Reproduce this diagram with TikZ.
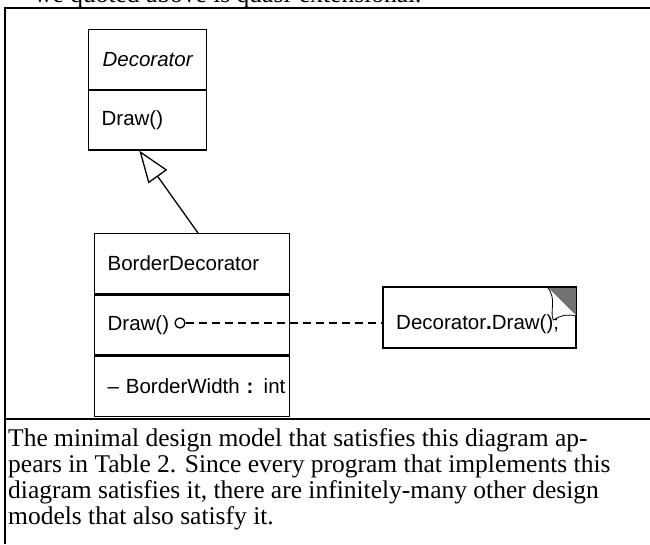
\documentclass[tikz,border=0pt]{standalone}
\usepackage{fontspec}
\setmainfont{Liberation Serif}
\setsansfont{Liberation Sans}
\usetikzlibrary{arrows.meta,calc}

\tikzset{
  marco/.style={line width=2pt},
  caja/.style={draw, line width=1.3pt, rectangle, inner ysep=0pt,
    font=\sffamily\fontsize{20.5}{24}\selectfont},
  compdeco/.style={caja, anchor=north west, minimum width=118pt,
    minimum height=59.5pt, inner xsep=13pt, text width=92pt},
  compborde/.style={caja, anchor=north west, minimum width=195pt,
    minimum height=60pt, inner xsep=13pt, text width=169pt, align=left},
  texto/.style={font=\sffamily\fontsize{20.5}{24}\selectfont, inner sep=0pt},
  leyenda/.style={font=\fontsize{25.5}{26}\selectfont, inner sep=0pt, anchor=base west},
  gen/.style={line width=1.3pt, -{Triangle[open, length=32pt, width=23pt, fill=white]}},
  depende/.style={line width=1.3pt, dash pattern=on 8pt off 5pt}
}

\begin{document}
\begin{tikzpicture}[x=1pt, y=-1pt]
    \useasboundingbox (0,0) rectangle (650,544);
    \clip (0,0) rectangle (650,544);

    % Marco de la tabla
    \draw[marco] (650,8) -- (5,8) -- (5,544);
    \draw[marco] (5,419) -- (650,419);
    \node[leyenda] (arriba) at (34,2) {we quoted above is quasi-extensional.};

    % Clase Decorator
    \node[compdeco, align=center] (deconombre) at (88,29) {\itshape Decorator};
    \node[compdeco, align=left] (decoops) at (deconombre.south west) {Draw()};

    % Clase BorderDecorator
    \node[compborde] (bordenombre) at (94,233) {BorderDecorator};
    \node[compborde] (bordeops) at (bordenombre.south west) {Draw()};
    \node[compborde] (bordeatr) at (bordeops.south west) {\mbox{-- BorderWidth \textbf{:} int}};

    % Herencia
    \coordinate (geninicio) at ($(bordenombre.north west)!0.53!(bordenombre.north east)$);
    \coordinate (genfin) at ($(decoops.south west)!0.43!(decoops.south east)$);
    \draw[gen] (geninicio) -- (genfin);

    % Nota con esquina doblada
    \node[caja, anchor=north west, minimum width=192pt, minimum height=60pt] (nota) at (383,287) {};
    \node[texto] (notatexto) at ($(nota.center)+(-2,7)$) {Decorator\textbf{.}Draw();};
    \fill[black!55] (nota.north east) -- ++(-29,0) -- ++(29,29) -- cycle;
    \draw[line width=0.8pt, fill=white] ($(nota.north east)+(-29,0)$)
        .. controls ($(nota.north east)+(-19,12)$) and ($(nota.north east)+(-27,24)$) .. ($(nota.north east)+(-23,33)$)
        .. controls ($(nota.north east)+(-15,28)$) and ($(nota.north east)+(-8,27)$) .. ($(nota.north east)+(0,29)$);
    \draw[line width=1.3pt] (nota.north west) rectangle (nota.south east);

    % Enlace de la operacion a la nota
    \node[draw, circle, line width=1.3pt, inner sep=0pt, minimum size=10pt] (punto) at (180,323) {};
    \draw[depende] (punto) -- (punto -| nota.west);

    % Texto de la leyenda
    \foreach \t [count=\i] in {
        {The minimal design model that satisfies this diagram ap-},
        {pears in Table 2. Since every program that implements this},
        {diagram satisfies it, there are infinitely-many other design},
        {models that also satisfy it.}}
      \node[leyenda] (linea\i) at (8,420+26*\i) {\t};
\end{tikzpicture}
\end{document}
